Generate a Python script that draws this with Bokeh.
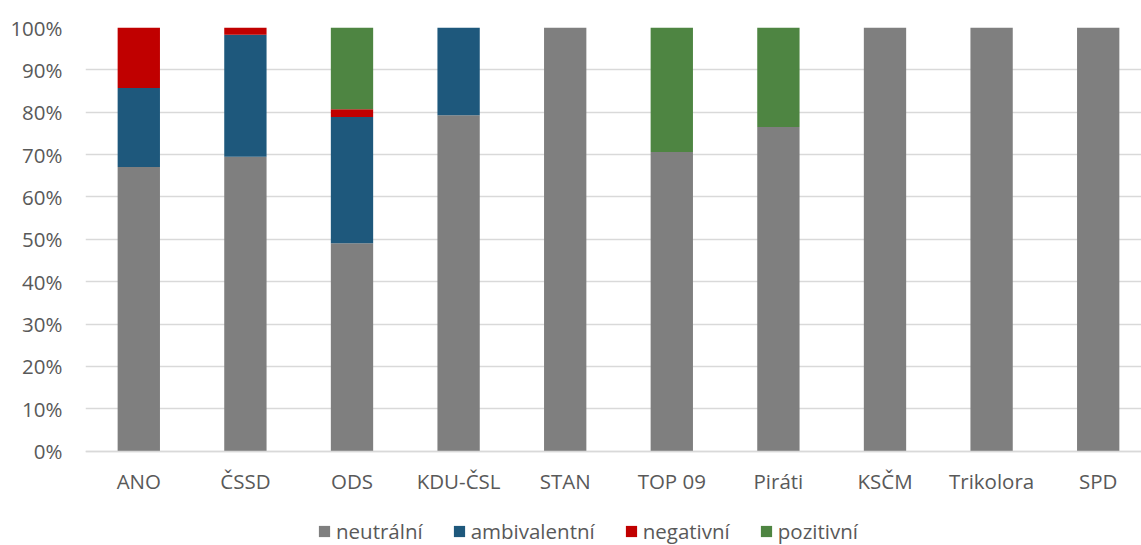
from bokeh.plotting import figure
from bokeh.models import (ColumnDataSource, Range1d, FixedTicker, PrintfTickFormatter,
                          Legend, LegendItem)
from bokeh.embed import file_html
from bokeh.resources import INLINE

categories = ["ANO", "ČSSD", "ODS", "KDU-ČSL", "STAN", "TOP 09", "Piráti", "KSČM", "Trikolora", "SPD"]
neutralni = [67.1, 69.5, 49.1, 79.3, 100, 70.6, 76.5, 100, 100, 100]
ambivalentni = [18.6, 28.8, 29.8, 20.7, 0, 0, 0, 0, 0, 0]
negativni = [14.3, 1.7, 1.8, 0, 0, 0, 0, 0, 0, 0]
pozitivni = [0, 0, 19.3, 0, 0, 29.4, 23.5, 0, 0, 0]
series = ["neutrální", "ambivalentní", "negativní", "pozitivní"]
colors = ["#7f7f7f", "#1e587c", "#c00000", "#4e8542"]
y_ticks = [0, 10, 20, 30, 40, 50, 60, 70, 80, 90, 100]

FONT = "Open Sans"
TXT = "#595959"
FS = "20.5px"

source = ColumnDataSource(data=dict(
    x=list(range(len(categories))),
    **{series[0]: neutralni, series[1]: ambivalentni, series[2]: negativni, series[3]: pozitivni}
))

W, H = 1141, 545
left_b, top_b = 85, 27
step_px = 106.6
frame_w = W - left_b
px_per_unit = (450.7 - top_b) / 100.0
y_bottom = -(H - 450.7) / px_per_unit

p = figure(width=W, height=H, output_backend="svg", toolbar_location=None,
           x_range=Range1d(-0.5, -0.5 + frame_w / step_px), y_range=Range1d(y_bottom, 100),
           min_border_left=left_b, min_border_right=0, min_border_top=top_b,
           min_border_bottom=0)
p.outline_line_color = None
p.background_fill_color = "white"
p.border_fill_color = "white"

renderers = p.vbar_stack(series, x="x", width=0.397, color=colors, source=source,
                         line_color=None)

p.xgrid.grid_line_color = None
p.ygrid.grid_line_color = "#d9d9d9"
p.ygrid.grid_line_width = 1.3
p.yaxis.ticker = FixedTicker(ticks=y_ticks)
p.yaxis.formatter = PrintfTickFormatter(format="%d%%")
p.yaxis.axis_line_color = None
p.yaxis.major_tick_line_color = None
p.yaxis.minor_tick_line_color = None
p.yaxis.major_tick_out = 0
p.yaxis.major_tick_in = 0
p.yaxis.major_label_standoff = 23
p.yaxis.major_label_text_font = FONT
p.yaxis.major_label_text_font_size = FS
p.yaxis.major_label_text_color = TXT

p.xaxis.fixed_location = 0
p.xaxis.ticker = FixedTicker(ticks=list(range(len(categories))))
p.xaxis.major_label_overrides = {i: c for i, c in enumerate(categories)}
p.xaxis.axis_line_color = "#d9d9d9"
p.xaxis.axis_line_width = 1.3
p.xaxis.major_tick_line_color = None
p.xaxis.minor_tick_line_color = None
p.xaxis.major_tick_out = 0
p.xaxis.major_tick_in = 0
p.xaxis.major_label_standoff = 16
p.xaxis.major_label_text_font = FONT
p.xaxis.major_label_text_font_size = FS
p.xaxis.major_label_text_color = TXT

legend = Legend(items=[LegendItem(label=s, renderers=[r]) for s, r in zip(series, renderers)],
                orientation="horizontal", location=(232, 0),
                border_line_color=None, background_fill_alpha=0,
                padding=0, margin=0, spacing=29, label_standoff=5,
                glyph_width=14, glyph_height=14,
                label_text_font=FONT, label_text_font_size=FS, label_text_color=TXT)
p.add_layout(legend, "center")

open("out.html", "w").write(file_html(p, INLINE))
